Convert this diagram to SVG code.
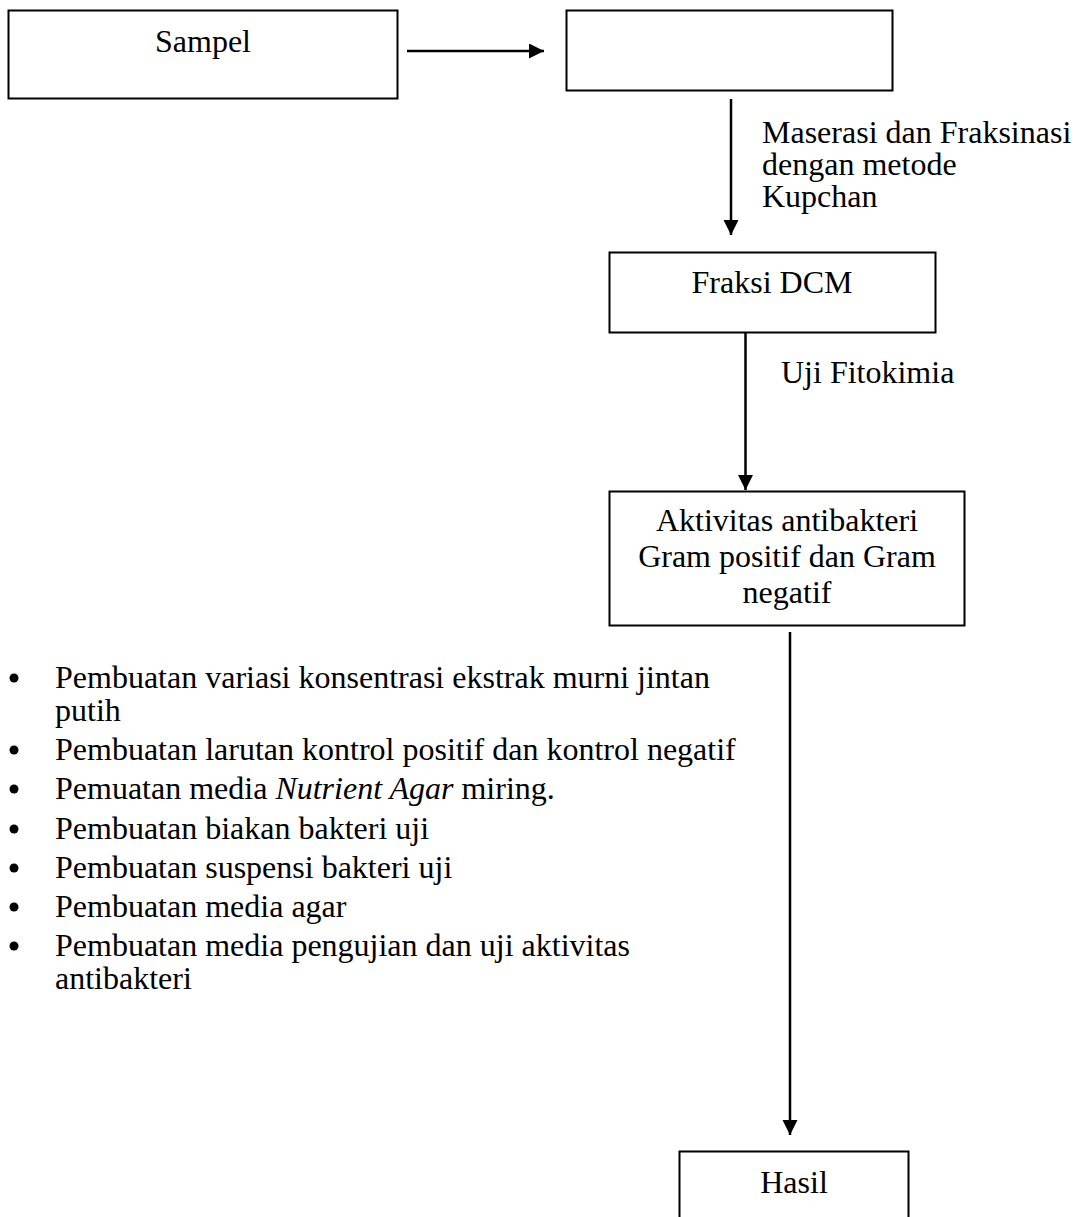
<svg xmlns="http://www.w3.org/2000/svg" width="1082" height="1217" viewBox="0 0 1082 1217">
  <style>
    .box { fill: #ffffff; stroke: #000000; stroke-width: 2; }
    .link { fill: none; stroke: #000000; stroke-width: 2.5; }
    .txt { font-family: "Liberation Serif", "Times New Roman", serif; font-size: 32px; fill: #000000; }
    .mid { text-anchor: middle; }
    .dot { fill: #000000; }
  </style>
  <defs>
    <marker id="head" markerUnits="userSpaceOnUse" markerWidth="16" markerHeight="16" refX="15" refY="7.5" orient="auto">
      <path d="M0,0 L15,7.5 L0,15 Z" fill="#000000"/>
    </marker>
  </defs>
  <rect width="1082" height="1217" fill="#ffffff"/>

  <!-- process boxes -->
  <g id="node-sampel">
    <rect class="box" x="8.5" y="10.5" width="389" height="88"/>
    <text class="txt mid" x="203" y="52">Sampel</text>
  </g>
  <g id="node-serbuk">
    <rect class="box" x="566.5" y="10.5" width="326" height="80"/>
  </g>
  <g id="node-fraksi">
    <rect class="box" x="609.5" y="252.5" width="326" height="80"/>
    <text class="txt mid" x="772" y="293">Fraksi DCM</text>
  </g>
  <g id="node-aktivitas">
    <rect class="box" x="609.5" y="491.5" width="355" height="134"/>
    <text class="txt mid" x="787" y="531">Aktivitas antibakteri</text>
    <text class="txt mid" x="787" y="567">Gram positif dan Gram</text>
    <text class="txt mid" x="787" y="603">negatif</text>
  </g>
  <g id="node-hasil">
    <rect class="box" x="679.5" y="1151.5" width="229" height="90"/>
    <text class="txt mid" x="794" y="1193">Hasil</text>
  </g>

  <!-- connectors -->
  <g id="connectors">
    <line class="link" x1="407" y1="51" x2="544" y2="51" marker-end="url(#head)"/>
    <line class="link" x1="731" y1="99" x2="731" y2="235" marker-end="url(#head)"/>
    <line class="link" x1="745.5" y1="333" x2="745.5" y2="490" marker-end="url(#head)"/>
    <line class="link" x1="790" y1="632" x2="790" y2="1135" marker-end="url(#head)"/>
  </g>

  <!-- connector labels -->
  <g id="labels">
    <text class="txt" x="762" y="143">Maserasi dan Fraksinasi</text>
    <text class="txt" x="762" y="175">dengan metode</text>
    <text class="txt" x="762" y="207">Kupchan</text>
    <text class="txt" x="781" y="383">Uji Fitokimia</text>
  </g>

  <!-- list of working steps -->
  <g id="steps">
    <circle class="dot" cx="14" cy="678" r="4.5"/>
    <text class="txt" x="55" y="688">Pembuatan variasi konsentrasi ekstrak murni jintan</text>
    <text class="txt" x="55" y="721">putih</text>
    <circle class="dot" cx="14" cy="750" r="4.5"/>
    <text class="txt" x="55" y="760">Pembuatan larutan kontrol positif dan kontrol negatif</text>
    <circle class="dot" cx="14" cy="789" r="4.5"/>
    <text class="txt" x="55" y="799">Pemuatan media <tspan font-style="italic">Nutrient Agar</tspan> miring.</text>
    <circle class="dot" cx="14" cy="829" r="4.5"/>
    <text class="txt" x="55" y="839">Pembuatan biakan bakteri uji</text>
    <circle class="dot" cx="14" cy="868" r="4.5"/>
    <text class="txt" x="55" y="878">Pembuatan suspensi bakteri uji</text>
    <circle class="dot" cx="14" cy="907" r="4.5"/>
    <text class="txt" x="55" y="917">Pembuatan media agar</text>
    <circle class="dot" cx="14" cy="946" r="4.5"/>
    <text class="txt" x="55" y="956">Pembuatan media pengujian dan uji aktivitas</text>
    <text class="txt" x="55" y="989">antibakteri</text>
  </g>
</svg>
